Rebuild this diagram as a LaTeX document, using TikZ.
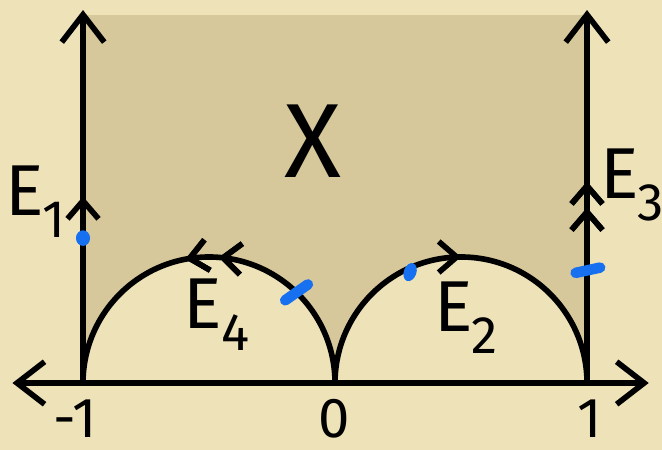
\documentclass[tikz,border=0pt]{standalone}
\usepackage{fontspec}
\setmainfont{Fira Sans}
\usetikzlibrary{arrows.meta,decorations.markings}
\definecolor{parchment}{RGB}{238,226,185}
\definecolor{regioncol}{RGB}{214,200,154}
\definecolor{bluemark}{RGB}{22,112,240}
\tikzset{
  edge/.style={line width=3.2pt, line cap=round, line join=round},
  barb/.tip={Straight Barb[length=0.55cm, width=0.85cm]},
  smallbarb/.tip={Straight Barb[length=0.36cm, width=0.62cm]},
  midbarb/.style={postaction={decorate}, decoration={markings,
      mark=at position #1 with {\arrow{smallbarb}}}},
  midbarbrev/.style={postaction={decorate}, decoration={markings,
      mark=at position #1 with {\arrowreversed{smallbarb}}}},
  lab/.style={font=\fontsize{41}{41}\selectfont, inner sep=1pt},
  numlab/.style={font=\fontsize{32}{32}\selectfont, inner sep=1pt},
  bluedash/.style={bluemark, line width=6pt, line cap=round}
}
\newcommand{\Elab}[1]{E\kern-0.02em\raisebox{-0.3em}{\fontsize{30}{30}\selectfont #1}}
\begin{document}
\begin{tikzpicture}[x=5.04cm, y=5.04cm]
    % paper and bounding box
    \fill[parchment] (-1.3294,-0.2659) rectangle (1.2976,1.5198);
    \useasboundingbox (-1.3294,-0.2659) rectangle (1.2976,1.5198);
    \coordinate (A) at (-1,0);
    \coordinate (O) at (0,0);
    \coordinate (B) at (1,0);
    \coordinate (Atop) at (-1,1.48);
    \coordinate (Btop) at (1,1.48);
    \coordinate (axL) at (-1.28,0);
    \coordinate (axR) at (1.245,0);
    % the region X
    \fill[regioncol] (A) arc (180:0:0.5) arc (180:0:0.5) -- (1,1.46) -- (-1,1.46) -- cycle;
    % real axis and the vertical sides
    \draw[edge, barb-barb] (axL) -- (axR);
    \draw[edge, -barb, midbarb=0.50] (A) -- (Atop);
    \draw[edge, -barb, midbarb=0.47, midbarb=0.54] (B) -- (Btop);
    \draw[edge, midbarbrev=0.44, midbarbrev=0.525] (A) arc (180:0:0.5);
    \draw[edge, midbarb=0.5] (O) arc (180:0:0.5);
    % blue marks
    \fill[bluemark] (-1,0.575) ellipse (0.028 and 0.031);
    \fill[bluemark, rotate around={-20:(0.298,0.44)}] (0.298,0.44) ellipse (0.025 and 0.037);
    \draw[bluedash] (-0.5,0) ++(46:0.5) ++(215:0.055) -- ++(35:0.11);
    \draw[bluedash] (0.955,0.437) -- (1.052,0.458);
    % labels
    \node[font=\fontsize{60}{60}\selectfont] (X) at (-0.087,0.96) {X};
    \node[lab] (E1) at (-1.19,0.72) {\Elab{1}};
    \node[lab] (E3) at (1.18,0.785) {\Elab{3}};
    \node[lab] (E4) at (-0.47,0.27) {\Elab{4}};
    \node[lab] (E2) at (0.52,0.26) {\Elab{2}};
    \node[numlab] (m1) at (-1.03,-0.14) {-1};
    \node[numlab] (n0) at (-0.005,-0.14) {0};
    \node[numlab] (p1) at (1.01,-0.14) {1};
\end{tikzpicture}
\end{document}
